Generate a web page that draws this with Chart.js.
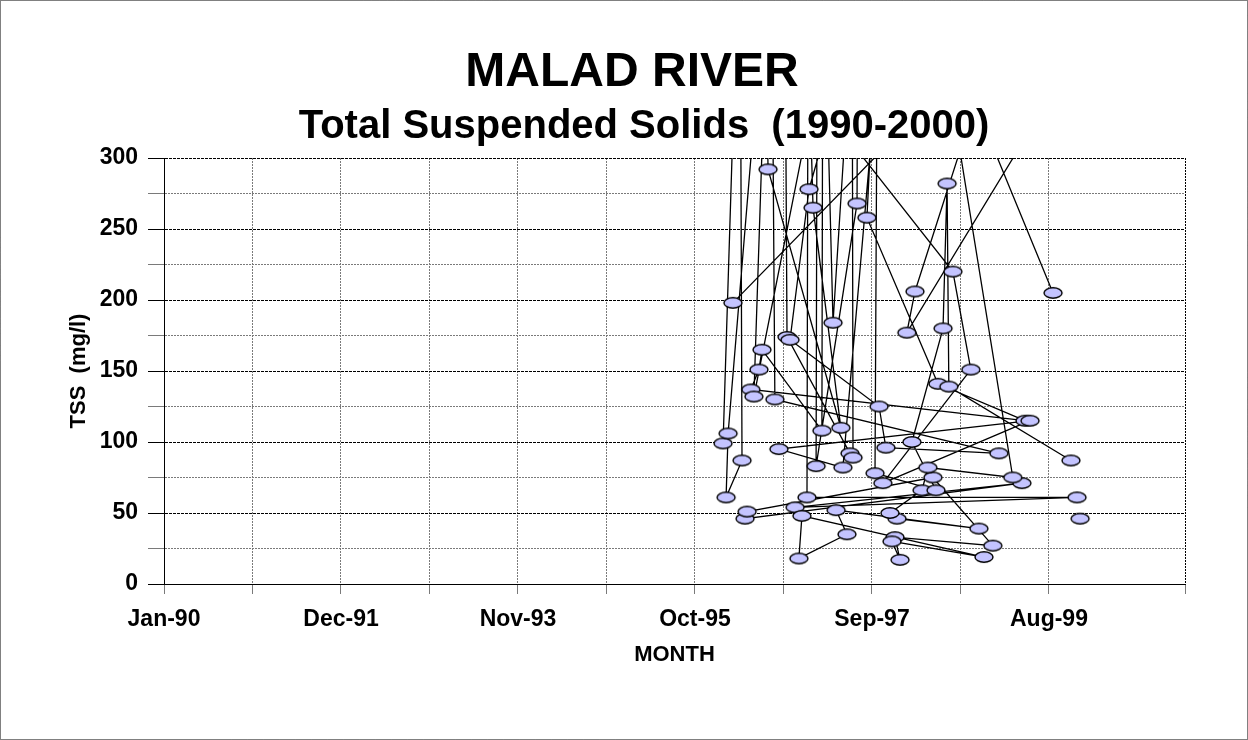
<!DOCTYPE html>
<html>
<head>
<meta charset="utf-8">
<title>Malad River - TSS</title>
<script src="https://cdn.jsdelivr.net/npm/chart.js@4.4.1/dist/chart.umd.min.js"></script>
<style>
html,body{margin:0;padding:0;background:#fff;}
</style>
</head>
<body>
<canvas id="grafico" width="1248" height="740"></canvas>
<script>

// ==============================
// DATOS
// ==============================

const titulo = "MALAD RIVER";
const subtitulo = "Total Suspended Solids  (1990-2000)";
const tituloY = "TSS  (mg/l)";
const tituloX = "MONTH";

// etiquetas del eje X (cada 700 dias desde Jan-90)
const etiquetasX = ["Jan-90", "Dec-91", "Nov-93", "Oct-95", "Sep-97", "Aug-99"];

// fechas de muestreo, en el orden de la hoja
const fechas = [
"1996-01-21","1996-03-28","1996-04-05","1996-02-02","1996-02-10","1996-07-05","1996-07-17","1997-05-01",
"1997-01-11","1996-12-22","1996-12-18","1999-11-21","1996-11-01","1999-04-17","1996-04-17","1996-04-25",
"1998-04-30","1998-12-23","1997-12-01","1997-12-21","1997-11-19","1998-11-18","1996-11-28","1996-11-16",
"1997-05-25","1997-04-12","1998-10-29","1997-12-09","1997-11-11","1998-03-18","1998-04-10","1999-03-12",
"1998-08-15","1998-02-18","1998-01-17","1999-05-20","1998-11-02","1999-08-18","1999-08-18",
"1996-02-29","1997-11-15","1997-09-15","1997-08-12","1998-05-20","1999-04-29","1996-05-10","1996-06-11",
"1996-06-23","1997-02-15","1997-02-19","1997-03-31","1997-05-29","1997-07-08","1997-07-04","1997-01-23",
"1997-01-30","1996-09-22","1996-09-30","1997-06-06","1997-06-18","1997-06-14","1996-05-22","1996-07-29",
"1996-08-13","1999-01-16","1997-10-26","1997-09-29","1996-10-12","1996-12-26","1997-03-19","1998-07-18",
"1998-09-27","1997-10-14","1999-05-19","1996-08-29","1997-05-09","1997-09-21","1997-09-13","1998-05-12",
"1998-02-06","1998-06-09","1998-06-25","1998-07-02","1999-10-28","1999-10-28","1999-12-03"
];

// TSS (mg/l); null = celda vacia
const tss = [
99, 480, 87, 61, 106, 420, 292, 110,
265, 390, 61, 61, 54, 71, 46, 51,
75, 27, 33, 17, 30, 19, 48, 18,
35, 52, 39, 46, 50, 66, 82, 75,
305, 206, 177, 320, 330, 205, null,
198, 312, 380, 258, 141, 115, 137, 151,
165, 108, 460, 184, 350, 520, 268, 83,
600, 420, 174, 92, 89, 480, 132, 500,
130, 92, 96, 125, 172, 278, 330, 220,
151, 71, 115, 95, 82, 360, 78, 66,
100, 180, 282, 139, 87, null, 46
];

// ==============================
// ESCALA DE FECHAS
// ==============================

const BASE = Date.UTC(1990, 0, 1);
const DIA = 86400000;
const PASO = 350;       // dias entre lineas de grilla
const DIAS_MAX = 4038;  // fin del eje
const meses = ["Jan","Feb","Mar","Apr","May","Jun","Jul","Aug","Sep","Oct","Nov","Dec"];

const puntos = fechas.map((f, i) => ({
  x: (Date.parse(f) - BASE) / DIA,
  y: tss[i]
}));

// ==============================
// MARCADOR ELIPSE
// ==============================

const elipse = document.createElement("canvas");
elipse.width = 22;
elipse.height = 14;
const ce = elipse.getContext("2d");
ce.beginPath();
ce.ellipse(11, 7, 9, 5.2, 0, 0, Math.PI * 2);
ce.fillStyle = "#c4c4ff";
ce.fill();
ce.lineWidth = 1.4;
ce.strokeStyle = "#000";
ce.stroke();

// ==============================
// MARCO Y TITULOS
// ==============================

const fuente = '"Liberation Sans", Arial, sans-serif';

const marcoYTitulos = {
  id: "marcoYTitulos",
  beforeDraw(chart) {
    const c = chart.ctx;
    c.save();
    c.fillStyle = "#fff";
    c.fillRect(0, 0, chart.width, chart.height);
    c.strokeStyle = "#000";
    c.lineWidth = 1;
    c.setLineDash([1, 1]);
    c.strokeRect(0.5, 0.5, chart.width - 1, chart.height - 1);
    c.restore();
  },
  afterDraw(chart) {
    const c = chart.ctx;
    c.save();
    c.fillStyle = "#000";
    c.textAlign = "center";
    c.textBaseline = "alphabetic";
    c.font = "bold 48px " + fuente;
    c.fillText(titulo, 632, 86);
    c.font = "bold 40px " + fuente;
    c.fillText(subtitulo, 644, 138);
    c.restore();
  }
};

// ==============================
// GRAFICO
// ==============================

const ctx = document.getElementById("grafico").getContext("2d");

let grafico = new Chart(ctx, {

type: "line",

data: {
  datasets: [{
    label: "TSS",
    data: puntos,
    borderColor: "#000",
    borderWidth: 1.3,
    pointStyle: elipse,
    pointRadius: 6,
    tension: 0,
    fill: false,
    spanGaps: false,
    clip: 0
  }]
},

options: {
  responsive: false,
  animation: false,
  devicePixelRatio: 1,
  layout: { padding: { left: 0, right: 63, top: 158, bottom: 0 } },
  plugins: {
    legend: { display: false },
    tooltip: { enabled: false }
  },
  scales: {
    x: {
      type: "linear",
      min: 0,
      max: DIAS_MAX,
      afterFit: s => { s.height = 156; },
      ticks: {
        stepSize: PASO,
        maxTicksLimit: 20,
        autoSkip: false,
        maxRotation: 0,
        padding: 12,
        color: "#000",
        font: { family: fuente, size: 23, weight: "bold" },
        callback: v => {
          const k = Math.round(v / PASO);
          if (Math.abs(v - k * PASO) > 0.01 || k % 2) return "";
          const d = new Date(BASE + v * DIA);
          return etiquetasX[k / 2] || (meses[d.getUTCMonth()] + "-" + String(d.getUTCFullYear()).slice(2));
        }
      },
      grid: {
        color: c => (c.tick && c.tick.value === DIAS_MAX) ? "#000" : "#7a7a7a",
        tickColor: "#7a7a7a",
        lineWidth: 1,
        tickLength: 10
      },
      border: { display: true, color: "#000", width: 1, dash: [2, 1] },
      title: {
        display: true,
        text: tituloX,
        color: "#000",
        font: { family: fuente, size: 22, weight: "bold" },
        padding: { top: 0, bottom: 72 }
      }
    },
    y: {
      min: 0,
      max: 300,
      afterFit: s => { s.width = 164; },
      ticks: {
        stepSize: 25,
        maxTicksLimit: 20,
        autoSkip: false,
        padding: 10,
        color: "#000",
        font: { family: fuente, size: 23, weight: "bold" },
        callback: v => (v % 50 === 0 ? v : "")
      },
      grid: {
        color: c => (c.tick && c.tick.value % 50 === 0) ? "#000" : "#7a7a7a",
        tickColor: c => (c.tick && c.tick.value % 50 === 0) ? "#000" : "#7a7a7a",
        lineWidth: 1,
        tickLength: 16
      },
      border: {
        display: true,
        color: "#000",
        width: 1,
        dash: c => (c.tick && c.tick.value % 50 === 0) ? [3, 1] : [2, 1]
      },
      title: {
        display: true,
        text: tituloY,
        color: "#000",
        font: { family: fuente, size: 22, weight: "bold" },
        padding: { top: 66, bottom: 0 }
      }
    }
  }
},

plugins: [marcoYTitulos]

});

</script>
</body>
</html>
